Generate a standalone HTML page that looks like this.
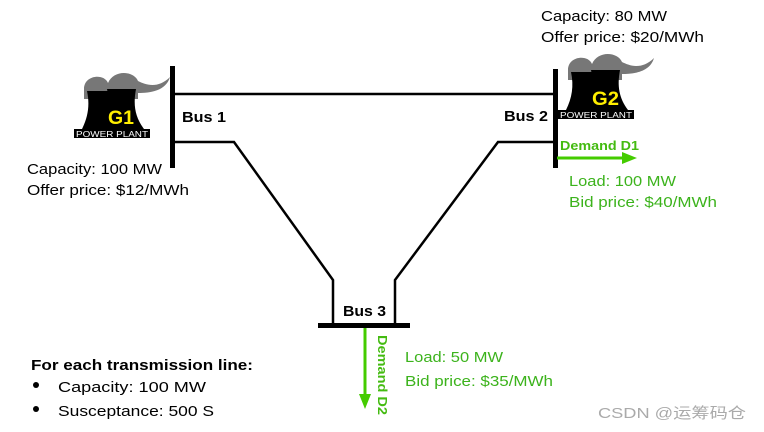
<!DOCTYPE html>
<html><head><meta charset="utf-8"><style>
html,body{margin:0;padding:0;background:#fff;}
svg{display:block;font-family:"Liberation Sans","Noto Sans CJK SC",sans-serif;}
</style></head><body>
<svg width="764" height="432" viewBox="0 0 764 432" xmlns="http://www.w3.org/2000/svg">
<defs>
<g id="pp">
  <path d="M10,-40 C10,-54 30,-56 34,-46 C40,-60 60,-58 64,-48 C72,-44 84,-40 96,-52 C92,-38 76,-36 64,-36 L64,-30 L10,-30 Z" fill="#777"/>
  <path d="M8,0 C14,-12 16,-24 13,-38 L36,-38 C34,-22 35,-12 40,0 Z" fill="#000"/>
  <path d="M28,0 C36,-12 36,-26 33,-40 L62,-40 C59,-24 61,-12 70,0 Z" fill="#000"/>
  <rect x="0" y="0" width="76" height="9" fill="#000"/>
  <text x="38" y="8" font-size="8.5" fill="#fff" text-anchor="middle" textLength="72" lengthAdjust="spacingAndGlyphs">POWER PLANT</text>
</g>
</defs>

<g stroke="#000" stroke-width="2.5" fill="none">
  <line x1="174" y1="94" x2="554" y2="94"/>
  <polyline points="174,142 234,142 333,280 333,325"/>
  <polyline points="554,142 498,142 395,280 395,325"/>
</g>
<rect x="170" y="66" width="5" height="102" fill="#000"/>
<rect x="553" y="69" width="5" height="99" fill="#000"/>
<rect x="318" y="323" width="92" height="5" fill="#000"/>

<use href="#pp" transform="translate(74,129)"/>
<text x="108" y="124" font-size="19" font-weight="bold" fill="#ffee00" textLength="26" lengthAdjust="spacingAndGlyphs">G1</text>
<use href="#pp" transform="translate(558,110)"/>
<text x="592" y="105" font-size="19" font-weight="bold" fill="#ffee00" textLength="27" lengthAdjust="spacingAndGlyphs">G2</text>

<line x1="557" y1="158" x2="624" y2="158" stroke="#44cc00" stroke-width="3"/>
<polygon points="622,152 637,158 622,164" fill="#44cc00"/>
<line x1="365" y1="328" x2="365" y2="396" stroke="#44cc00" stroke-width="3"/>
<polygon points="359,394 365,409 371,394" fill="#44cc00"/>

<g font-size="15" fill="#000">
  <text x="541" y="21" textLength="126" lengthAdjust="spacingAndGlyphs">Capacity: 80 MW</text>
  <text x="541" y="42" textLength="163" lengthAdjust="spacingAndGlyphs">Offer price: $20/MWh</text>
  <text x="27" y="174" textLength="135" lengthAdjust="spacingAndGlyphs">Capacity: 100 MW</text>
  <text x="27" y="195" textLength="162" lengthAdjust="spacingAndGlyphs">Offer price: $12/MWh</text>
  <text x="182" y="122" font-weight="bold" textLength="44" lengthAdjust="spacingAndGlyphs">Bus 1</text>
  <text x="504" y="121" font-weight="bold" textLength="44" lengthAdjust="spacingAndGlyphs">Bus 2</text>
  <text x="343" y="316" font-weight="bold" textLength="43" lengthAdjust="spacingAndGlyphs">Bus 3</text>
  <text x="31" y="370" font-weight="bold" textLength="222" lengthAdjust="spacingAndGlyphs">For each transmission line:</text>
  <circle cx="36" cy="385" r="3"/>
  <circle cx="36" cy="409" r="3"/>
  <text x="58" y="392" textLength="148" lengthAdjust="spacingAndGlyphs">Capacity: 100 MW</text>
  <text x="58" y="416" textLength="156" lengthAdjust="spacingAndGlyphs">Susceptance: 500 S</text>
</g>
<g fill="#3cb31c" font-size="15">
  <text x="560" y="150" font-size="13" font-weight="bold" fill="#44bb11" textLength="79" lengthAdjust="spacingAndGlyphs">Demand D1</text>
  <text x="569" y="186" textLength="107" lengthAdjust="spacingAndGlyphs">Load: 100 MW</text>
  <text x="569" y="207" textLength="148" lengthAdjust="spacingAndGlyphs">Bid price: $40/MWh</text>
  <text x="405" y="362" textLength="98" lengthAdjust="spacingAndGlyphs">Load: 50 MW</text>
  <text x="405" y="386" textLength="148" lengthAdjust="spacingAndGlyphs">Bid price: $35/MWh</text>
  <text transform="translate(378,335) rotate(90)" font-size="13" font-weight="bold" fill="#44bb11" textLength="80" lengthAdjust="spacingAndGlyphs">Demand D2</text>
</g>
<text x="598" y="418" font-size="15" fill="#aaa" textLength="148" lengthAdjust="spacingAndGlyphs">CSDN @运筹码仓</text>
</svg>
</body></html>
